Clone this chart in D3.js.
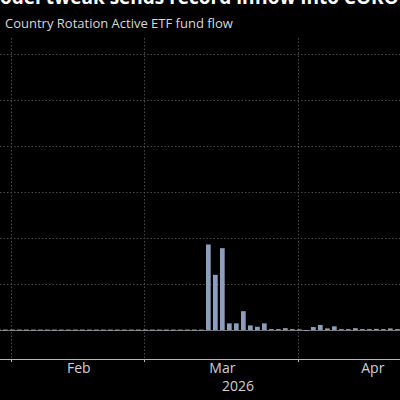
<!DOCTYPE html>
<html>
<head>
<meta charset="utf-8">
<script src="https://cdn.jsdelivr.net/npm/d3@7"></script>
<style>
  html, body { margin: 0; padding: 0; background: #000; overflow: hidden; }
  svg { display: block; }
</style>
</head>
<body>
<svg id="chart"></svg>
<script>
// trading days shown (Presidents' Day and Good Friday are skipped)
const days = [
  "2026-01-29", "2026-01-30",
  "2026-02-02", "2026-02-03", "2026-02-04", "2026-02-05", "2026-02-06",
  "2026-02-09", "2026-02-10", "2026-02-11", "2026-02-12", "2026-02-13",
  "2026-02-17", "2026-02-18", "2026-02-19", "2026-02-20",
  "2026-02-23", "2026-02-24", "2026-02-25", "2026-02-26", "2026-02-27",
  "2026-03-02", "2026-03-03", "2026-03-04", "2026-03-05", "2026-03-06",
  "2026-03-09", "2026-03-10", "2026-03-11", "2026-03-12", "2026-03-13",
  "2026-03-16", "2026-03-17", "2026-03-18", "2026-03-19", "2026-03-20",
  "2026-03-23", "2026-03-24", "2026-03-25", "2026-03-26", "2026-03-27",
  "2026-03-30", "2026-03-31",
  "2026-04-01", "2026-04-02",
  "2026-04-06", "2026-04-07", "2026-04-08", "2026-04-09", "2026-04-10",
  "2026-04-13", "2026-04-14", "2026-04-15", "2026-04-16", "2026-04-17",
  "2026-04-20", "2026-04-21", "2026-04-22"
]
// daily fund flow (estimated, $M)
const flows = [
  1, 1,
  1, 1, 1, 1, 1,
  1, 1, 1, 1, 1,
  1, 1, 1, 1,
  1, 1, 1, 1, 1,
  1, 1, 1, 1, 1,
  1, 1, 1, 1, 186,
  120, 178, 14.5, 14.5, 41,
  10, 7, 14.5, 2, 2,
  4, 2,
  1.5, -2,
  6.5, 11, 3.5, 8, 2,
  2, 4, 2, 2, 2.5,
  2, 3.5, 2
]
const monthStarts = ["2026-02-02", "2026-03-02", "2026-04-01"]
const monthLabels = ["Feb", "Mar", "Apr"]
const monthTradingDays = [19, 22, 21]
const yTicks = [0, 100, 200, 300, 400, 500, 600]
const yearLabel = "2026"

const width = 400
const height = 400
const step = 7
const plotTop = 38
const axisY = 359

const svg = d3.select('#chart')
    .attr('width', width)
    .attr('height', height)

svg.append('rect')
    .attr('width', width)
    .attr('height', height)
    .attr('fill', '#000')

const x0 = -5.15
let x = d3.scaleBand()
    .domain(days)
    .range([x0, x0 + step * days.length])
    .paddingInner(0.33)
    .paddingOuter(0.165)

let y = d3.scaleLinear()
    .domain([-63, 635])
    .range([axisY, plotTop])

const center = d => x(d) + x.bandwidth() / 2

// horizontal grid
svg.append('g')
    .selectAll('line')
    .data(yTicks)
    .enter()
    .append('line')
    .attr('x1', 0)
    .attr('x2', width)
    .attr('y1', d => Math.round(y(d)) + 0.5)
    .attr('y2', d => Math.round(y(d)) + 0.5)
    .attr('stroke', d => d === 0 ? '#777' : '#4a4a4a')
    .attr('stroke-width', 1)
    .attr('stroke-dasharray', d => d === 0 ? null : '1.5,2')

// vertical month grid
svg.append('g')
    .selectAll('line')
    .data(monthStarts)
    .enter()
    .append('line')
    .attr('x1', d => Math.round(center(d)) - 0.5)
    .attr('x2', d => Math.round(center(d)) - 0.5)
    .attr('y1', plotTop)
    .attr('y2', axisY)
    .attr('stroke', '#4a4a4a')
    .attr('stroke-dasharray', '1.5,2')

// bars
svg.append('g')
    .selectAll('rect')
    .data(days.map((d, i) => [d, flows[i]]))
    .enter()
    .append('rect')
    .attr('x', d => x(d[0]))
    .attr('width', x.bandwidth())
    .attr('y', d => Math.min(y(d[1]), y(0)))
    .attr('height', d => Math.max(1, Math.abs(y(d[1]) - y(0))))
    .attr('fill', d => d[1] > 5 ? '#8c9ebb' : '#9a9ea8')

// x axis line + ticks
svg.append('line')
    .attr('x1', 0)
    .attr('x2', width)
    .attr('y1', axisY + 0.5)
    .attr('y2', axisY + 0.5)
    .attr('stroke', '#b8b8b8')
    .attr('stroke-width', 1.2)

svg.append('g')
    .selectAll('line')
    .data(monthStarts)
    .enter()
    .append('line')
    .attr('x1', d => Math.round(center(d)) - 0.5)
    .attr('x2', d => Math.round(center(d)) - 0.5)
    .attr('y1', axisY)
    .attr('y2', axisY + 3)
    .attr('stroke', '#b8b8b8')

// month labels, centred in each month
const labelX = monthStarts.map((d, i) => center(d) + step * monthTradingDays[i] / 2)
svg.append('g')
    .selectAll('text')
    .data(monthLabels)
    .enter()
    .append('text')
    .attr('x', (d, i) => labelX[i])
    .attr('y', 373)
    .attr('text-anchor', 'middle')
    .attr('fill', '#d0d0d0')
    .style('font-family', '"Open Sans", sans-serif')
    .style('font-size', '14px')
    .text(d => d)

svg.append('text')
    .attr('x', 238)
    .attr('y', 391)
    .attr('text-anchor', 'middle')
    .attr('fill', '#d0d0d0')
    .style('font-family', '"Open Sans", sans-serif')
    .style('font-size', '14px')
    .text(yearLabel)

// title (cropped at the top) and subtitle
let title = svg.append('text')
    .attr('y', 4)
    .attr('fill', '#fff')
    .style('font-family', '"Open Sans", sans-serif')
    .style('font-weight', 'bold')
    .style('font-size', '19px')
    .text('Model tweak sends record inflow into COKO ETF')
let probe = svg.append('text')
    .style('font-family', '"Open Sans", sans-serif')
    .style('font-weight', 'bold')
    .style('font-size', '19px')
    .text('M')
title.attr('x', -probe.node().getComputedTextLength())
probe.remove()

svg.append('text')
    .attr('x', 5)
    .attr('y', 28)
    .attr('fill', '#d8d8d8')
    .style('font-family', '"Open Sans", sans-serif')
    .style('font-size', '13px')
    .text('Country Rotation Active ETF fund flow')
</script>
</body>
</html>
